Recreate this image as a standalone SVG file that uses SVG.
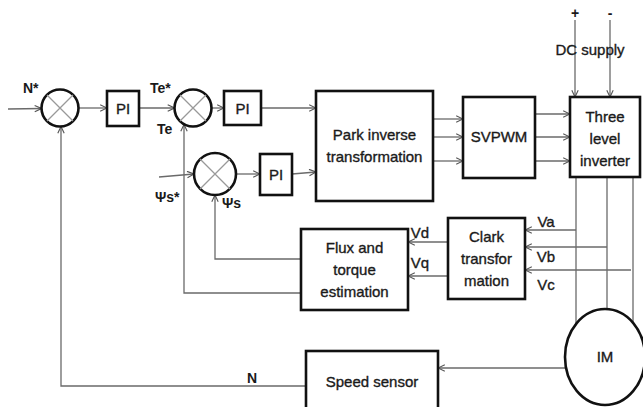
<svg xmlns="http://www.w3.org/2000/svg" width="643" height="407" viewBox="0 0 643 407">
<defs>
<marker id="arr" viewBox="0 0 10 10" refX="9.5" refY="5" markerWidth="8" markerHeight="8" markerUnits="userSpaceOnUse" orient="auto">
<path d="M1,1 L9.5,5 L1,9" fill="none" stroke="#555" stroke-width="1.4"/>
</marker>
<style>
.box{fill:#fff;stroke:#111;stroke-width:2.6}
.sum{fill:#fff;stroke:#111;stroke-width:2.6}
.x{stroke:#999;stroke-width:1.3}
.c{fill:none;stroke:#6a6a6a;stroke-width:1.3}
.a{marker-end:url(#arr)}
text{font-family:"Liberation Sans",Arial,sans-serif;fill:#1a1a1a}
.t{font-size:15px;text-anchor:middle;stroke:#1a1a1a;stroke-width:0.35}
.l{font-size:14px;font-weight:bold}
</style>
</defs>
<rect width="643" height="407" fill="#fff"/>

<g id="connectors">
<path class="c a" d="M8,109 L41.5,108.5"/>
<path class="c a" d="M78.5,108 L107,108"/>
<path class="c a" d="M139,108 L174.5,108"/>
<path class="c a" d="M211.5,108 L224,108"/>
<path class="c a" d="M261,108 L316,108"/>
<path class="c a" d="M159,177 L194,174"/>
<path class="c a" d="M236,174 L260,174"/>
<path class="c a" d="M292,174 L316,172"/>
<path class="c a" d="M433,119 L463,119"/>
<path class="c a" d="M433,137 L463,137"/>
<path class="c a" d="M433,161 L463,161"/>
<path class="c a" d="M535,114 L570,114"/>
<path class="c a" d="M535,137 L570,137"/>
<path class="c a" d="M535,161 L570,161"/>
<path class="c a" d="M575,20 L575,97"/>
<path class="c a" d="M610,20 L610,97"/>
<path class="c" d="M576,177 L576,324"/>
<path class="c" d="M607,177 L607,309"/>
<path class="c" d="M633,177 L633,323"/>
<path class="c a" d="M576,230 L525,230"/>
<path class="c a" d="M607,247 L525,247"/>
<path class="c a" d="M631,270 L525,270"/>
<path class="c a" d="M448,242 L408,242"/>
<path class="c a" d="M448,276 L408,276"/>
<path class="c a" d="M301,259 L215,259 L215,195"/>
<path class="c a" d="M301,293 L184,293 L184,124.5"/>
<path class="c a" d="M566,368 L438,368"/>
<path class="c a" d="M306,386 L61,386 L61,126.5"/>
</g>

<g id="sum1">
<circle class="sum" cx="60" cy="108" r="18.5"/>
<path class="x" d="M47,95 L73,121 M73,95 L47,121"/>
</g>
<g id="pi1">
<rect class="box" x="107" y="91" width="32" height="35"/>
<text class="t" x="123" y="114">PI</text>
</g>
<g id="sum2">
<circle class="sum" cx="193" cy="108" r="18.5"/>
<path class="x" d="M180,95 L206,121 M206,95 L180,121"/>
</g>
<g id="pi2">
<rect class="box" x="224" y="91" width="37" height="34"/>
<text class="t" x="242.5" y="114">PI</text>
</g>
<g id="sum3">
<circle class="sum" cx="215" cy="174" r="21"/>
<path class="x" d="M200,159 L230,189 M230,159 L200,189"/>
</g>
<g id="pi3">
<rect class="box" x="260" y="154" width="32" height="41"/>
<text class="t" x="276" y="180">PI</text>
</g>
<g id="park">
<rect class="box" x="316" y="91" width="117" height="110"/>
<text class="t" x="374.5" y="140">Park inverse</text>
<text class="t" x="374.5" y="162">transformation</text>
</g>
<g id="svpwm">
<rect class="box" x="463" y="97" width="72" height="81"/>
<text class="t" x="499" y="142">SVPWM</text>
</g>
<g id="inverter">
<rect class="box" x="570" y="97" width="70" height="80"/>
<text class="t" x="605" y="122">Three</text>
<text class="t" x="605" y="144">level</text>
<text class="t" x="605" y="166">inverter</text>
</g>
<g id="flux">
<rect class="box" x="301" y="229" width="107" height="81"/>
<text class="t" x="354.5" y="253">Flux and</text>
<text class="t" x="354.5" y="275">torque</text>
<text class="t" x="354.5" y="297">estimation</text>
</g>
<g id="clark">
<rect class="box" x="448" y="218" width="77" height="81"/>
<text class="t" x="486.5" y="242">Clark</text>
<text class="t" x="486.5" y="264">transfor</text>
<text class="t" x="486.5" y="286">mation</text>
</g>
<g id="speed">
<rect class="box" x="306" y="351" width="132" height="62"/>
<text class="t" x="372" y="387">Speed sensor</text>
</g>
<g id="im">
<ellipse class="box" cx="605" cy="357" rx="40" ry="48"/>
<text class="t" x="605" y="362">IM</text>
</g>

<g id="labels">
<text class="l" x="23" y="93">N*</text>
<text class="l" x="150" y="93">Te*</text>
<text class="l" x="157" y="134">Te</text>
<text class="l" x="155" y="202">Ψs*</text>
<text class="l" x="222" y="208">Ψs</text>
<text class="l" x="575" y="18" text-anchor="middle">+</text>
<text class="l" x="610" y="18" text-anchor="middle">-</text>
<text class="t" x="590" y="55">DC supply</text>
<text class="t" x="420" y="238" text-anchor="start">Vd</text>
<text class="t" x="420" y="268" text-anchor="start">Vq</text>
<text class="t" x="546" y="227" text-anchor="start">Va</text>
<text class="t" x="546" y="262" text-anchor="start">Vb</text>
<text class="t" x="546" y="290" text-anchor="start">Vc</text>
<text class="l" x="247" y="383">N</text>
</g>
</svg>
